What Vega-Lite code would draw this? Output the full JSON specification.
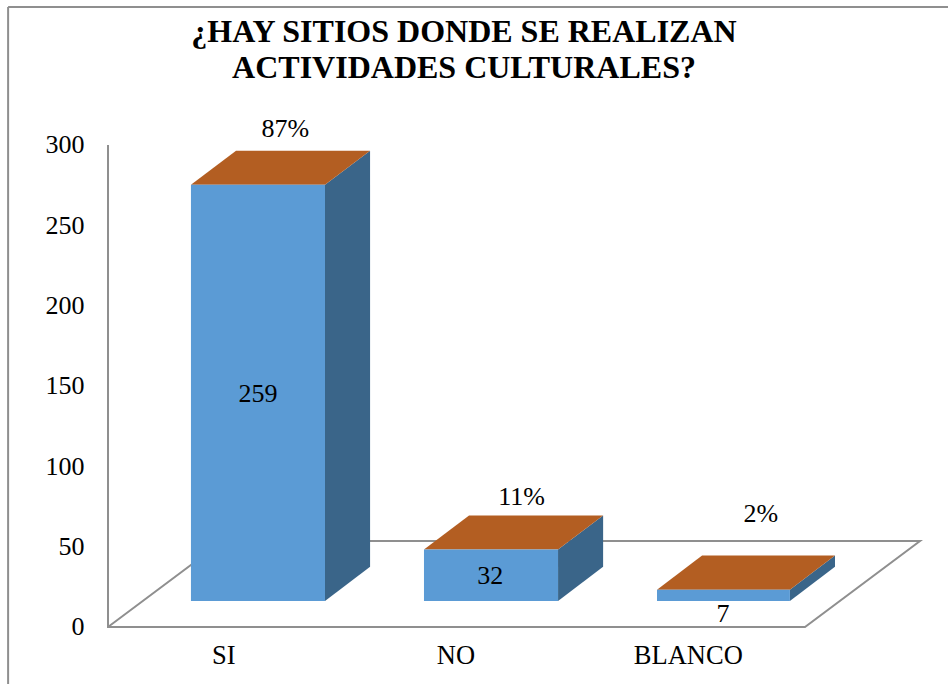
{
"$schema":"https://vega.github.io/schema/vega-lite/v6.json",
"width":948,"height":684,"autosize":"none","padding":0,"background":"white",
"title":{"text":["¿HAY SITIOS DONDE SE REALIZAN","ACTIVIDADES CULTURALES?"],"font":"Liberation Serif","fontSize":32,"fontWeight":"bold","color":"#000000","anchor":"middle","lineHeight":36,"offset":-85,"dx":-10,"baseline":"top"},
"config":{"view":{"stroke":null}},
"datasets":{
"lines":[
{"seg":"border_left","o":1,"x":-0.43,"y":385.9},{"seg":"border_left","o":2,"x":-0.43,"y":-35.5},
{"seg":"border_top","o":1,"x":-0.43,"y":385.9},{"seg":"border_top","o":2,"x":3.6155,"y":385.9},
{"seg":"floor","o":1,"x":0,"y":300},{"seg":"floor","o":2,"x":0,"y":0},{"seg":"floor","o":3,"x":3,"y":0},{"seg":"floor","o":4,"x":3.495,"y":53.5},{"seg":"floor","o":5,"x":0.495,"y":53.5},{"seg":"floor","o":6,"x":0,"y":0}
],
"bars":[
{"categoria":"SI","valor":259,"x":0.357,"x2":0.934,"y":16.2,"y2":275.2},
{"categoria":"NO","valor":32,"x":1.36,"x2":1.937,"y":16.2,"y2":48.2},
{"categoria":"BLANCO","valor":7,"x":2.363,"x2":2.935,"y":16.2,"y2":23.2}
],
"tops":[
{"categoria":"SI","y":275.2,"x":0.357,"x2":0.934},{"categoria":"SI","y":296.4,"x":0.551,"x2":1.128},
{"categoria":"NO","y":48.2,"x":1.36,"x2":1.937},{"categoria":"NO","y":69.4,"x":1.554,"x2":2.131},
{"categoria":"BLANCO","y":23.2,"x":2.363,"x2":2.935},{"categoria":"BLANCO","y":44.4,"x":2.557,"x2":3.129}
],
"sides":[
{"categoria":"SI","x":0.934,"y":16.2,"y2":275.2},{"categoria":"SI","x":1.128,"y":37.4,"y2":296.4},
{"categoria":"NO","x":1.937,"y":16.2,"y2":48.2},{"categoria":"NO","x":2.131,"y":37.4,"y2":69.4},
{"categoria":"BLANCO","x":2.935,"y":16.2,"y2":23.2},{"categoria":"BLANCO","x":3.129,"y":37.4,"y2":44.4}
],
"labels":[
{"t":"259","x":0.646,"y":145},{"t":"32","x":1.645,"y":32},{"t":"7","x":2.647,"y":8},
{"t":"87%","x":0.763,"y":310},{"t":"11%","x":1.78,"y":81},{"t":"2%","x":2.81,"y":70}
]
},
"layer":[
{"data":{"name":"lines"},"mark":{"type":"line","color":"#8f8f8f","strokeWidth":2,"clip":false},
 "encoding":{
 "x":{"field":"x","type":"quantitative","scale":{"domain":[-0.4649,3.6155],"nice":false,"zero":false},
  "axis":{"values":[0.5,1.5,2.5],"title":null,"domain":false,"ticks":false,"grid":false,"offset":-57,"labelPadding":15,"labelOffset":-1,"labelFont":"Liberation Serif","labelFontSize":26.5,"labelColor":"#000000","labelExpr":"datum.value==0.5?'SI':datum.value==1.5?'NO':'BLANCO'"}},
 "y":{"field":"y","type":"quantitative","scale":{"domain":[-35.5,390.2],"nice":false,"zero":false},
  "axis":{"values":[0,50,100,150,200,250,300],"title":null,"domain":false,"ticks":false,"grid":false,"offset":-84,"labelPadding":0,"labelFont":"Liberation Serif","labelFontSize":26,"labelColor":"#000000"}},
 "detail":{"field":"seg"},"order":{"field":"o"}}},
{"data":{"name":"sides"},"mark":{"type":"area","orient":"vertical","color":"#3A6589"},
 "encoding":{"x":{"field":"x","type":"quantitative"},"y":{"field":"y","type":"quantitative","stack":null},"y2":{"field":"y2"},"detail":{"field":"categoria"}}},
{"data":{"name":"tops"},"mark":{"type":"area","orient":"horizontal","color":"#B35E22"},
 "encoding":{"y":{"field":"y","type":"quantitative"},"x":{"field":"x","type":"quantitative","stack":null},"x2":{"field":"x2"},"detail":{"field":"categoria"}}},
{"data":{"name":"bars"},"mark":{"type":"rect","color":"#5B9BD5"},
 "encoding":{"x":{"field":"x","type":"quantitative"},"x2":{"field":"x2"},"y":{"field":"y","type":"quantitative"},"y2":{"field":"y2"}}},
{"data":{"name":"labels"},"mark":{"type":"text","font":"Liberation Serif","fontSize":26,"color":"#000000"},
 "encoding":{"x":{"field":"x","type":"quantitative"},"y":{"field":"y","type":"quantitative"},"text":{"field":"t"}}}
]
}
